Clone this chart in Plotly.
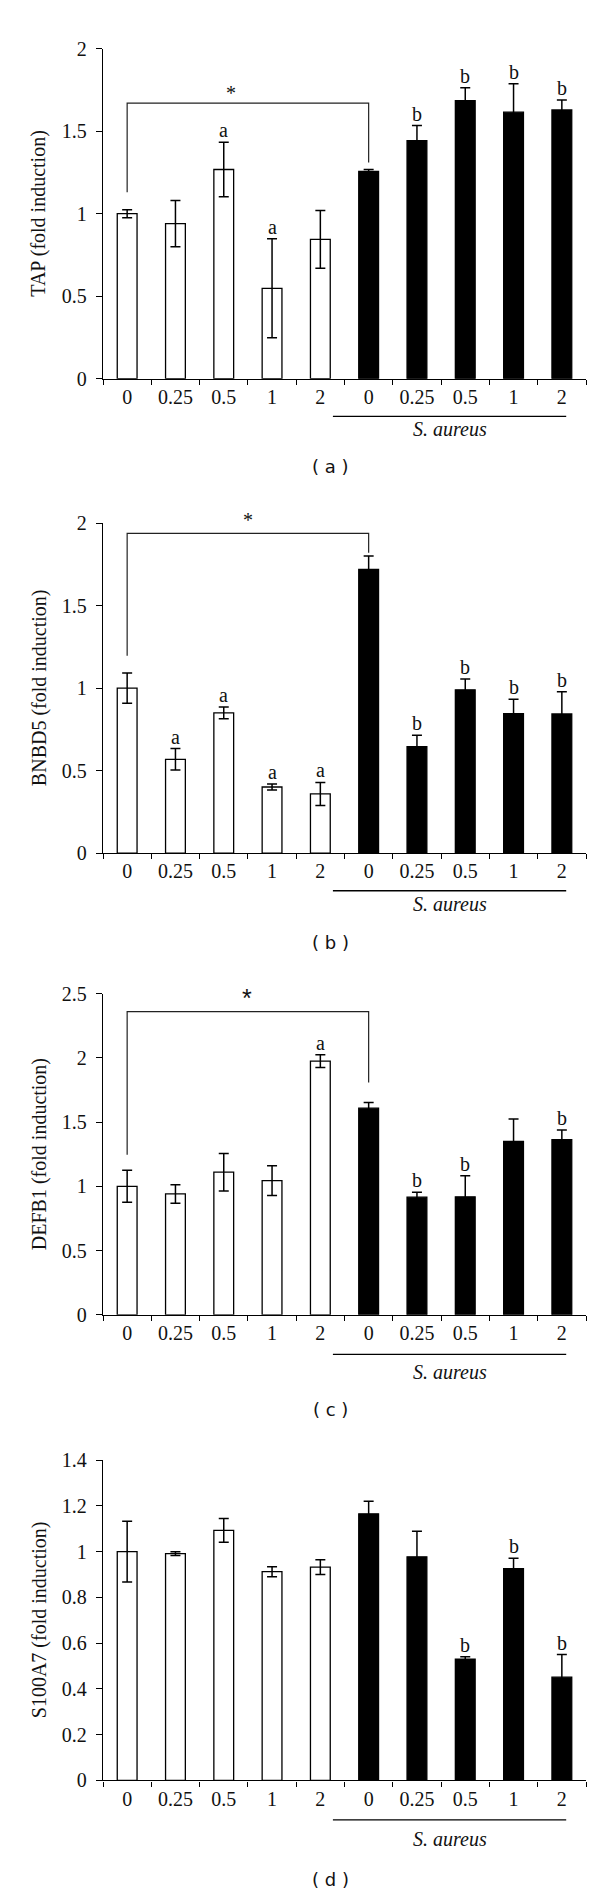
import plotly.graph_objects as go

# ---------------- data ----------------
categories = ["0", "0.25", "0.5", "1", "2", "0", "0.25", "0.5", "1", "2"]
infected = [False] * 5 + [True] * 5

tap_values = [1.00, 0.94, 1.268, 0.548, 0.845, 1.256, 1.442, 1.685, 1.615, 1.629]
tap_errors = [0.024, 0.14, 0.165, 0.30, 0.175, 0.012, 0.092, 0.078, 0.172, 0.06]
tap_letters = ["", "", "a", "a", "", "", "b", "b", "b", "b"]

bnbd5_values = [1.00, 0.569, 0.85, 0.401, 0.359, 1.719, 0.645, 0.99, 0.846, 0.844]
bnbd5_errors = [0.092, 0.065, 0.036, 0.018, 0.07, 0.082, 0.07, 0.066, 0.086, 0.134]
bnbd5_letters = ["", "a", "a", "a", "a", "", "b", "b", "b", "b"]

defb1_values = [1.00, 0.941, 1.11, 1.044, 1.974, 1.608, 0.915, 0.918, 1.349, 1.364]
defb1_errors = [0.124, 0.072, 0.146, 0.115, 0.05, 0.044, 0.038, 0.164, 0.174, 0.074]
defb1_letters = ["", "", "", "", "a", "", "b", "b", "", "b"]

s100a7_values = [1.00, 0.991, 1.093, 0.912, 0.932, 1.165, 0.977, 0.53, 0.925, 0.451]
s100a7_errors = [0.133, 0.008, 0.052, 0.022, 0.032, 0.055, 0.112, 0.01, 0.046, 0.099]
s100a7_letters = ["", "", "", "", "", "", "", "b", "b", "b"]

y_titles = ["TAP (fold induction)", "BNBD5 (fold induction)",
            "DEFB1 (fold induction)", "S100A7 (fold induction)"]
panel_labels = ["( a )", "( b )", "( c )", "( d )"]
y_max = [2, 2, 2.5, 1.4]
y_step = [0.5, 0.5, 0.5, 0.2]

# significance brackets: left leg bottom, top, right leg bottom; asterisk x
bracket_left = [1.13, 1.196, 1.246, None]
bracket_top = [1.67, 1.938, 2.36, None]
bracket_right = [1.31, 1.82, 1.808, None]
star_x = [2.15, 2.5, 2.48, None]
bracket_from, bracket_to = 0, 5

group_label = "S. aureus"
group_span = (4.26, 9.09)

panels = [
    (tap_values, tap_errors, tap_letters),
    (bnbd5_values, bnbd5_errors, bnbd5_letters),
    (defb1_values, defb1_errors, defb1_letters),
    (s100a7_values, s100a7_errors, s100a7_letters),
]

# ---------------- layout geometry (px) ----------------
W, H = 600, 1896
x_left, x_right = 95, 578
plot_top = [30, 510, 986, 1458]
plot_bottom = [364, 844, 1311, 1782]
underline_off = [38, 38, 40, 40]
group_text_off = [51, 51, 58, 59]
label_off = [89, 90, 96, 100]
star_shift = [10, 13, 14, 0]

SERIF = "Liberation Serif, serif"
SANS = "DejaVu Sans, sans-serif"
FS = 20

def py(px):
    return 1 - px / H

fig = go.Figure()
layout = dict(width=W, height=H, margin=dict(l=0, r=0, t=0, b=0),
              plot_bgcolor="white", paper_bgcolor="white", showlegend=False)
annotations = []
shapes = []
xs = list(range(len(categories)))

for i, (vals, errs, letters) in enumerate(panels):
    n = "" if i == 0 else str(i + 1)
    xa, ya = "x" + n, "y" + n
    fig.add_trace(go.Bar(
        x=xs, y=vals, xaxis=xa, yaxis=ya,
        marker=dict(color=["black" if s else "white" for s in infected],
                    line=dict(color="black", width=1.3)),
        error_y=dict(type="data", array=errs, visible=True,
                     color="black", thickness=1.5, width=5),
        width=0.41,
    ))
    nt = int(round(y_max[i] / y_step[i]))
    layout["xaxis" + n] = dict(
        domain=[x_left / W, x_right / W], anchor=ya,
        range=[-0.5, 9.5], tickmode="array", tickvals=xs, ticktext=categories,
        ticks="", showline=True, linecolor="black", linewidth=1.4,
        showgrid=False, zeroline=False,
        tickfont=dict(family=SERIF, size=FS, color="#111"),
        minor=dict(tickmode="array", tickvals=[k - 0.5 for k in range(11)],
                   ticks="outside", ticklen=5, tickcolor="black", tickwidth=1.3),
        fixedrange=True,
    )
    layout["yaxis" + n] = dict(
        domain=[py(plot_bottom[i]), py(plot_top[i])], anchor=xa,
        range=[0, y_max[i]], tickmode="array",
        tickvals=[round(k * y_step[i], 2) for k in range(nt + 1)],
        ticks="outside", ticklen=6, tickcolor="black", tickwidth=1.3,
        showline=True, linecolor="black", linewidth=1.4,
        showgrid=False, zeroline=False,
        tickfont=dict(family=SERIF, size=FS, color="#111"),
        ticklabelstandoff=5,
    )
    # y-axis title
    annotations.append(dict(
        text=y_titles[i], xref="paper", yref="paper", x=31 / W,
        y=py((plot_top[i] + plot_bottom[i]) / 2), textangle=-90,
        showarrow=False, xanchor="center", yanchor="middle",
        font=dict(family=SERIF, size=FS, color="#111")))
    # significance letters
    for k, letter in enumerate(letters):
        if letter:
            annotations.append(dict(
                text=letter, xref=xa, yref=ya, x=xs[k], y=vals[k] + errs[k],
                showarrow=False, xanchor="center", yanchor="bottom", yshift=-1,
                font=dict(family=SERIF, size=FS, color="#111")))
    # bracket and asterisk
    if bracket_top[i] is not None:
        shapes.append(dict(
            type="path", xref=xa, yref=ya,
            path=(f"M {bracket_from},{bracket_left[i]} L {bracket_from},{bracket_top[i]} "
                  f"L {bracket_to},{bracket_top[i]} L {bracket_to},{bracket_right[i]}"),
            line=dict(color="#222", width=1.2)))
        star_font = (dict(family="Liberation Sans, sans-serif", size=25, color="#111")
                     if i == 2 else dict(family=SERIF, size=FS, color="#111"))
        annotations.append(dict(
            text="*", xref=xa, yref=ya, x=star_x[i], y=bracket_top[i],
            showarrow=False, xanchor="center", yanchor="middle",
            yshift=star_shift[i], font=star_font))
    # S. aureus underline and label
    uy = py(plot_bottom[i] + underline_off[i])
    shapes.append(dict(type="line", xref=xa, yref="paper",
                       x0=group_span[0], x1=group_span[1], y0=uy, y1=uy,
                       line=dict(color="black", width=1.3)))
    annotations.append(dict(
        text="<i>" + group_label + "</i>", xref=xa, yref="paper",
        x=(group_span[0] + group_span[1]) / 2,
        y=py(plot_bottom[i] + group_text_off[i]),
        showarrow=False, xanchor="center", yanchor="middle",
        font=dict(family=SERIF, size=FS, color="#111")))
    # panel label
    annotations.append(dict(
        text=panel_labels[i], xref="paper", yref="paper", x=322 / W,
        y=py(plot_bottom[i] + label_off[i]), showarrow=False,
        xanchor="center", yanchor="middle",
        font=dict(family=SANS, size=18, color="#111")))

layout["annotations"] = annotations
layout["shapes"] = shapes
fig.update_layout(**layout)
fig.write_html("out.html")
